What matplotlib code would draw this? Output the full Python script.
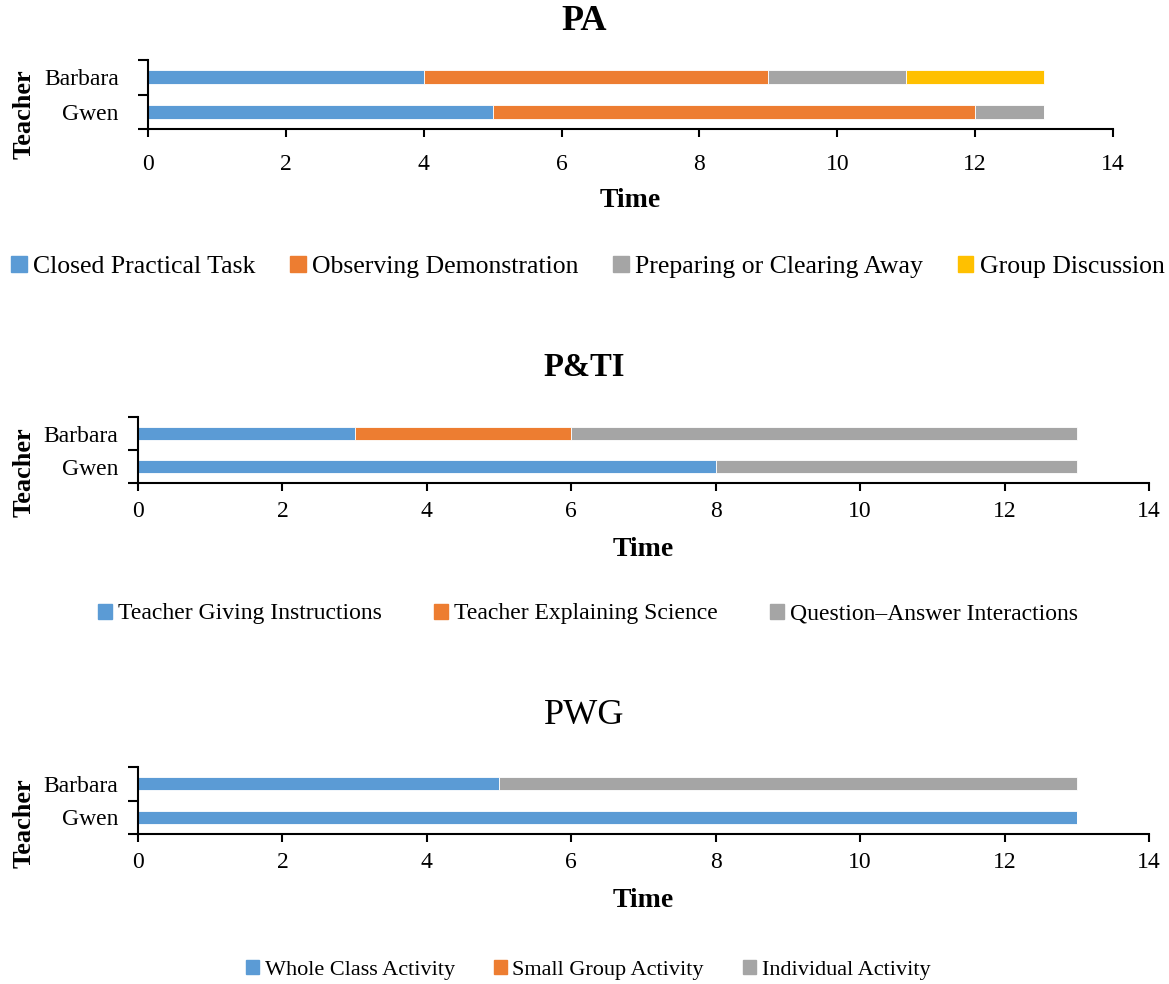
import matplotlib.pyplot as plt
from matplotlib.patches import Patch

plt.rcParams['font.family'] = ['Liberation Serif', 'DejaVu Serif']

teachers = ["Gwen", "Barbara"]

# PA
pa_labels = ["Closed Practical Task", "Observing Demonstration",
             "Preparing or Clearing Away", "Group Discussion"]
pa_gwen = [5, 7, 1, 0]
pa_barbara = [4, 5, 2, 2]

# P&TI
pti_labels = ["Teacher Giving Instructions", "Teacher Explaining Science",
              "Question\u2013Answer Interactions"]
pti_gwen = [8, 0, 5]
pti_barbara = [3, 3, 7]

# PWG
pwg_labels = ["Whole Class Activity", "Small Group Activity", "Individual Activity"]
pwg_gwen = [13, 0, 0]
pwg_barbara = [5, 0, 8]

colors = ["#5B9BD5", "#ED7D31", "#A5A5A5", "#FFC000"]

fig = plt.figure(figsize=(11.69, 9.84), dpi=100)


def panel(rect, title, title_size, bold_title, labels, gwen, barbara, title_y,
          legend_y, legend_size, colspace, xpad, ypad, labelpad, ylab_x, ylab_y):
    ax = fig.add_axes(rect)
    left = [0, 0]
    for i, lab in enumerate(labels):
        vals = [gwen[i], barbara[i]]
        ax.barh([0, 1], vals, left=left, height=0.4, color=colors[i],
                edgecolor="white", linewidth=0.6)
        left = [left[0] + vals[0], left[1] + vals[1]]
    ax.set_xlim(0, 14)
    ax.set_ylim(-0.5, 1.5)
    ax.set_xticks(range(0, 15, 2))
    ax.set_yticks([0, 1])
    ax.set_yticklabels(teachers)
    ax.set_yticks([-0.5, 0.5, 1.5], minor=True)
    ax.tick_params(axis="y", which="major", length=0, labelsize=17, pad=ypad)
    ax.tick_params(axis="y", which="minor", length=7, width=1.5, direction="out")
    ax.tick_params(axis="x", length=6, width=1.5, labelsize=17, pad=xpad)
    for s in ["top", "right"]:
        ax.spines[s].set_visible(False)
    for s in ["left", "bottom"]:
        ax.spines[s].set_linewidth(1.5)
    ax.set_xlabel("Time", fontsize=20, fontweight="bold", labelpad=labelpad)
    ax.set_ylabel("Teacher", fontsize=19, fontweight="bold")
    ax.yaxis.set_label_coords(ylab_x, ylab_y)
    fig.text(0.5, title_y, title, ha="center", va="center", fontsize=title_size,
             fontweight="bold" if bold_title else "normal")
    handles = [Patch(color=colors[i], label=lab) for i, lab in enumerate(labels)]
    fig.legend(handles=handles, loc="center", bbox_to_anchor=(0.503, legend_y),
               ncol=len(labels), frameon=False, fontsize=legend_size,
               handlelength=0.6, handleheight=0.6, handletextpad=0.25,
               columnspacing=colspace)
    return ax


panel([0.1266, 0.8689, 0.8255, 0.0701], "PA", 26, True, pa_labels, pa_gwen,
      pa_barbara, 1 - 21 / 984, 1 - 267 / 984, 18.5, 1.35, 12, 21, 9,
      -0.116, 0.22)
panel([0.118, 0.5091, 0.8649, 0.0671], "P&TI", 23.5, True, pti_labels, pti_gwen,
      pti_barbara, 1 - 367 / 984, 1 - 614 / 984, 17, 2.2, 7, 14, 11,
      -0.101, 0.17)
panel([0.118, 0.1524, 0.8649, 0.0681], "PWG", 26, False, pwg_labels, pwg_gwen,
      pwg_barbara, 1 - 715 / 984, 1 - 970 / 984, 16, 1.75, 7, 14, 11,
      -0.101, 0.17)

fig.savefig("out.png", dpi=100)
